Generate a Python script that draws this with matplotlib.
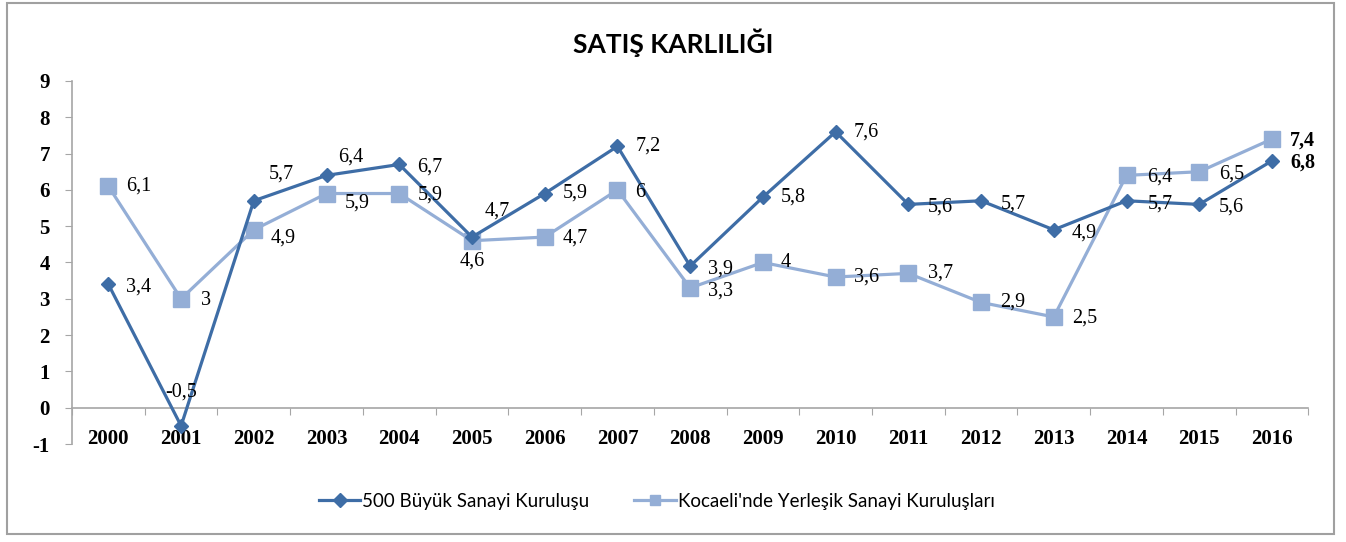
import matplotlib
matplotlib.use('Agg')
import matplotlib.pyplot as plt
from matplotlib.patches import Rectangle

# Chart data
years = [str(y) for y in range(2000, 2017)]
buyuk_500 = [3.4, -0.5, 5.7, 6.4, 6.7, 4.7, 5.9, 7.2, 3.9, 5.8, 7.6, 5.6, 5.7, 4.9, 5.7, 5.6, 6.8]
kocaeli = [6.1, 3.0, 4.9, 5.9, 5.9, 4.6, 4.7, 6.0, 3.3, 4.0, 3.6, 3.7, 2.9, 2.5, 6.4, 6.5, 7.4]
y_ticks = list(range(-1, 10))

DARK = '#3E6DA6'
LIGHT = '#94AED6'
SERIF = 'Liberation Serif'

# label offsets in points (dx, dy), per point
off_dark = [(13, -2), (0, 24), (11, 19), (8, 13), (13, -2), (9, 19), (13, 0), (13, 0),
            (13, -2), (13, 0), (13, 0), (14, -2), (14, -2), (13, -2), (15, -2), (14, -2), (13, -1)]
off_light = [(13, 0), (14, -1), (12, -6), (13, -7), (13, -1), (0, -15), (13, -1), (13, -2),
             (13, -2), (13, 0), (13, 0), (14, 0), (14, 0), (13, -1), (15, -1), (14, -2), (13, -1)]

fig = plt.figure(figsize=(13.46, 5.42), dpi=100)
fig.patches.append(Rectangle((0.005, 0.015), 0.986, 0.98, transform=fig.transFigure,
                             fill=False, edgecolor='#A0A0A0', linewidth=1.5))

ax = fig.add_axes([0.0535, 0.1808, 0.9185, 0.6698])
x = list(range(len(years)))

ax.plot(x, buyuk_500, color=DARK, linewidth=2.3, marker='D', markersize=7.5,
        label='500 Büyük Sanayi Kuruluşu', zorder=3)
ax.plot(x, kocaeli, color=LIGHT, linewidth=2.3, marker='s', markersize=11,
        label="Kocaeli'nde Yerleşik Sanayi Kuruluşları", zorder=2)

def fmt(v):
    return ('%g' % v).replace('.', ',')

for series, offs in ((buyuk_500, off_dark), (kocaeli, off_light)):
    for i, v in enumerate(series):
        dx, dy = offs[i]
        last = i == len(x) - 1
        ax.annotate(fmt(v), (i, v), xytext=(dx, dy), textcoords='offset points',
                    ha='left' if dx > 4 else 'center', va='center', fontsize=14.5,
                    family=SERIF, fontweight='bold' if last else 'normal', zorder=5)

ax.set_xlim(-0.5, len(years) - 0.5)
ax.set_ylim(-1, 9)
ax.set_yticks(y_ticks)
ax.set_yticklabels([str(t) for t in y_ticks], family=SERIF, fontweight='bold', fontsize=15)

ax.spines['top'].set_visible(False)
ax.spines['right'].set_visible(False)
ax.spines['bottom'].set_position(('data', 0))
for s in ('left', 'bottom'):
    ax.spines[s].set_color('#A6A6A6')
    ax.spines[s].set_linewidth(1.2)

# boundary ticks (major) and category labels (minor)
ax.set_xticks([i - 0.5 for i in range(len(years) + 1)])
ax.set_xticklabels([])
ax.set_xticks(x, minor=True)
ax.set_xticklabels(years, minor=True, family=SERIF, fontweight='bold', fontsize=15)
ax.tick_params(axis='x', which='major', length=5, color='#A6A6A6', direction='out')
ax.tick_params(axis='x', which='minor', length=0, pad=15)
ax.tick_params(axis='y', length=5, color='#A6A6A6', pad=11)

fig.text(0.5, 0.922, 'SATIŞ KARLILIĞI', ha='center', va='center', fontsize=19,
         fontweight='bold', family='Lato')

leg = fig.legend(loc='center', bbox_to_anchor=(0.488, 0.075), ncol=2, frameon=False,
                 prop={'family': 'Lato', 'size': 13.5}, handlelength=2.2,
                 handletextpad=0.1, columnspacing=2.4)
for h in leg.legend_handles:
    h.set_markersize(7)

fig.savefig('out.png', dpi=100)
